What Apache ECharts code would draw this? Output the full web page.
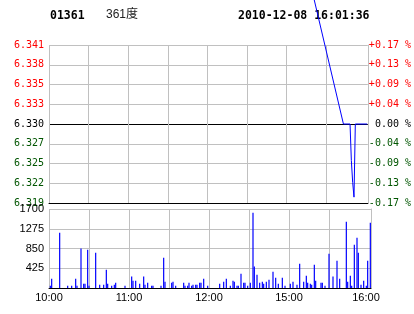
<!DOCTYPE html>
<html><head><meta charset="utf-8">
<script src="https://cdn.jsdelivr.net/npm/echarts@6/dist/echarts.min.js"></script>
<style>html,body{margin:0;padding:0;background:#fff;}#c{width:414px;height:314px;}</style>
</head><body><div id="c"></div>
<script>
// ---- header ----
const stockCode = '01361';
const stockName = '361度';
const stamp = '2010-12-08 16:01:36';

// ---- price panel ----
const prevClose = 6.330;
const priceStep = 0.0027;          // one grid step of the price axis
const priceTimes  = ['15:00', '15:43', '15:48', '15:49', '15:50', '15:51', '15:52', '16:01'];
const priceValues = [6.363,   6.330,   6.330,   6.325,   6.322,   6.320,   6.330,   6.330];

// ---- volume panel ----
const volumeMax = 1700;
const volumeInterval = 425;
const volumeTimes = ['10:01','10:02','10:08','10:14','10:17','10:20','10:21','10:24','10:26','10:27','10:29','10:30',
  '10:35','10:38','10:41','10:43','10:44','10:47','10:49','10:50','10:57','11:02','11:03','11:05','11:08','11:11',
  '11:12','11:14','11:17','11:18','11:24','11:26','11:27','11:32','11:33','11:35','11:41','11:42','11:44','11:45',
  '11:47','11:48','11:50','11:51','11:53','11:54','11:56','11:59','12:08','12:11','12:13','12:16','12:18','12:19',
  '12:21','12:22','12:24','12:26','12:27','12:29','14:31','14:33','14:34','14:36','14:38','14:40','14:41','14:43',
  '14:45','14:48','14:50','14:52','14:55','14:57','15:01','15:03','15:06','15:08','15:11','15:13','15:14','15:16',
  '15:17','15:19','15:20','15:24','15:25','15:27','15:30','15:33','15:36','15:38','15:43','15:44','15:46','15:47',
  '15:49','15:51','15:52','15:54','15:56','15:58','15:59','16:01'];
const volumeValues = [50,200,1190,50,50,200,50,850,93,93,825,50,
  760,70,70,395,93,50,70,115,50,245,158,158,93,245,
  70,115,50,50,50,650,136,115,136,50,115,50,50,115,
  50,70,70,70,115,115,200,50,93,136,200,50,158,136,
  50,50,308,115,115,50,115,1620,460,287,115,136,93,136,
  180,351,222,93,222,50,93,136,70,523,136,265,115,93,
  70,502,158,115,115,50,738,245,588,200,1427,136,265,50,
  932,1083,760,70,158,50,588,1405];

// ---- time axis ----
const timeLabels = ['10:00', '11:00', '12:00', '15:00', '16:00'];

function toMinute(t) {           // trading minutes since 10:00 (lunch break removed)
  const [h, m] = t.split(':').map(Number);
  const a = h * 60 + m;
  return a <= 750 ? a - 600 : a - 870 + 150;
}
function toTime(v) {
  let a = v <= 150 ? 600 + v : 870 + (v - 150);
  const h = Math.floor(a / 60), m = Math.round(a % 60);
  return h + ':' + (m < 10 ? '0' : '') + m;
}

const GREY = '#c0c0c0';
const RED = '#ff0000';
const GREEN = '#005500';
const BLUE = '#0000ff';

const chart = echarts.init(document.getElementById('c'), null, {renderer: 'canvas'});

const priceData = priceTimes.map((t, i) => [toMinute(t), (priceValues[i] - prevClose) / priceStep]);
const volumeData = volumeTimes.map((t, i) => [toMinute(t), volumeValues[i]]);

const xSplitColors = [GREY, GREY, GREY, GREY, GREY, GREY, GREY, GREY, 'rgba(0,0,0,0)', GREY, GREY];

function xAxisBase(gridIndex, showLabels) {
  return {
    type: 'value', gridIndex: gridIndex, min: 0, max: 241.5, interval: 30,
    axisLine: {show: true, onZero: false, lineStyle: {color: '#000', width: 1}},
    axisTick: {show: false},
    splitLine: {show: true, lineStyle: {color: xSplitColors, width: 1}},
    axisLabel: {
      show: showLabels, margin: 4, color: '#000', fontSize: 11, fontFamily: 'Liberation Sans',
      formatter: v => {
        const s = toTime(v);
        if (!(v % 30 === 0 && timeLabels.indexOf(s) >= 0)) return '';
        return s === timeLabels[timeLabels.length - 1] ? '{last|' + s + '}' : s;
      },
      rich: {last: {fontSize: 11, fontFamily: 'Liberation Sans', color: '#000', padding: [0, 6, 0, 0]}},
      showMinLabel: true, showMaxLabel: true, hideOverlap: false
    }
  };
}

const ySplitColors = ['#000', GREY, GREY, GREY, '#000', GREY, GREY, GREY, GREY];

function priceColor(v) { return v > 0.001 ? RED : (v < -0.001 ? GREEN : '#000'); }

chart.setOption({
  animation: false,
  backgroundColor: '#fff',
  color: [BLUE],
  grid: [
    {left: 49, top: 45, width: 322, height: 158},
    {left: 49, top: 209, width: 322, height: 79}
  ],
  xAxis: [xAxisBase(0, false), xAxisBase(1, true)],
  yAxis: [
    {
      type: 'value', gridIndex: 0, min: -4, max: 4, interval: 1, position: 'left',
      axisLine: {show: false}, axisTick: {show: false},
      splitLine: {show: true, lineStyle: {color: ySplitColors, width: 1}},
      axisLabel: {
        margin: 5, fontSize: 10, fontFamily: 'DejaVu Sans Mono',
        color: v => priceColor(v),
        formatter: v => (prevClose + v * priceStep).toFixed(3)
      }
    },
    {
      type: 'value', gridIndex: 0, min: -4, max: 4, interval: 1, position: 'right',
      axisLine: {show: true, lineStyle: {color: GREY}}, axisTick: {show: false},
      splitLine: {show: false},
      axisLabel: {
        margin: 1, fontSize: 10, fontFamily: 'DejaVu Sans Mono',
        color: v => priceColor(v),
        formatter: v => {
          const pct = Math.abs(v * priceStep / prevClose * 100).toFixed(2);
          if (v > 0.001) return '+' + pct + ' %';
          if (v < -0.001) return '-' + pct + ' %';
          return ' 0.00 %';
        }
      }
    },
    {
      type: 'value', gridIndex: 1, min: 0, max: volumeMax, interval: volumeInterval, position: 'left',
      axisLine: {show: false}, axisTick: {show: false},
      splitLine: {show: true, lineStyle: {color: GREY, width: 1}},
      axisLabel: {
        margin: 5, fontSize: 11, fontFamily: 'Liberation Sans', color: '#000',
        padding: [6, 0, 0, 0],
        formatter: v => v === 0 ? '' : String(v)
      }
    },
    {
      type: 'value', gridIndex: 1, min: 0, max: volumeMax, interval: volumeInterval, position: 'right',
      axisLine: {show: true, lineStyle: {color: GREY}}, axisTick: {show: false},
      splitLine: {show: false}, axisLabel: {show: false}
    }
  ],
  series: [
    {
      type: 'line', xAxisIndex: 0, yAxisIndex: 0, data: priceData,
      showSymbol: false, symbol: 'none', clip: false,
      lineStyle: {color: BLUE, width: 1}, itemStyle: {color: BLUE}, z: 5
    },
    {
      type: 'bar', xAxisIndex: 1, yAxisIndex: 2, data: volumeData,
      barWidth: 1.2, large: false,
      itemStyle: {color: BLUE, borderWidth: 0},
      z: 5
    }
  ],
  graphic: [
    {type: 'text', left: 50, top: 10, style: {text: stockCode, font: 'bold 11.5px "DejaVu Sans Mono"', fill: '#000'}},
    {type: 'text', left: 106, top: 9, style: {text: stockName, font: '12px "Liberation Sans", "Noto Sans CJK SC"', fill: '#222'}},
    {type: 'text', left: 238, top: 10, style: {text: stamp, font: 'bold 11.5px "DejaVu Sans Mono"', fill: '#000'}}
  ]
});
</script>
</body></html>
